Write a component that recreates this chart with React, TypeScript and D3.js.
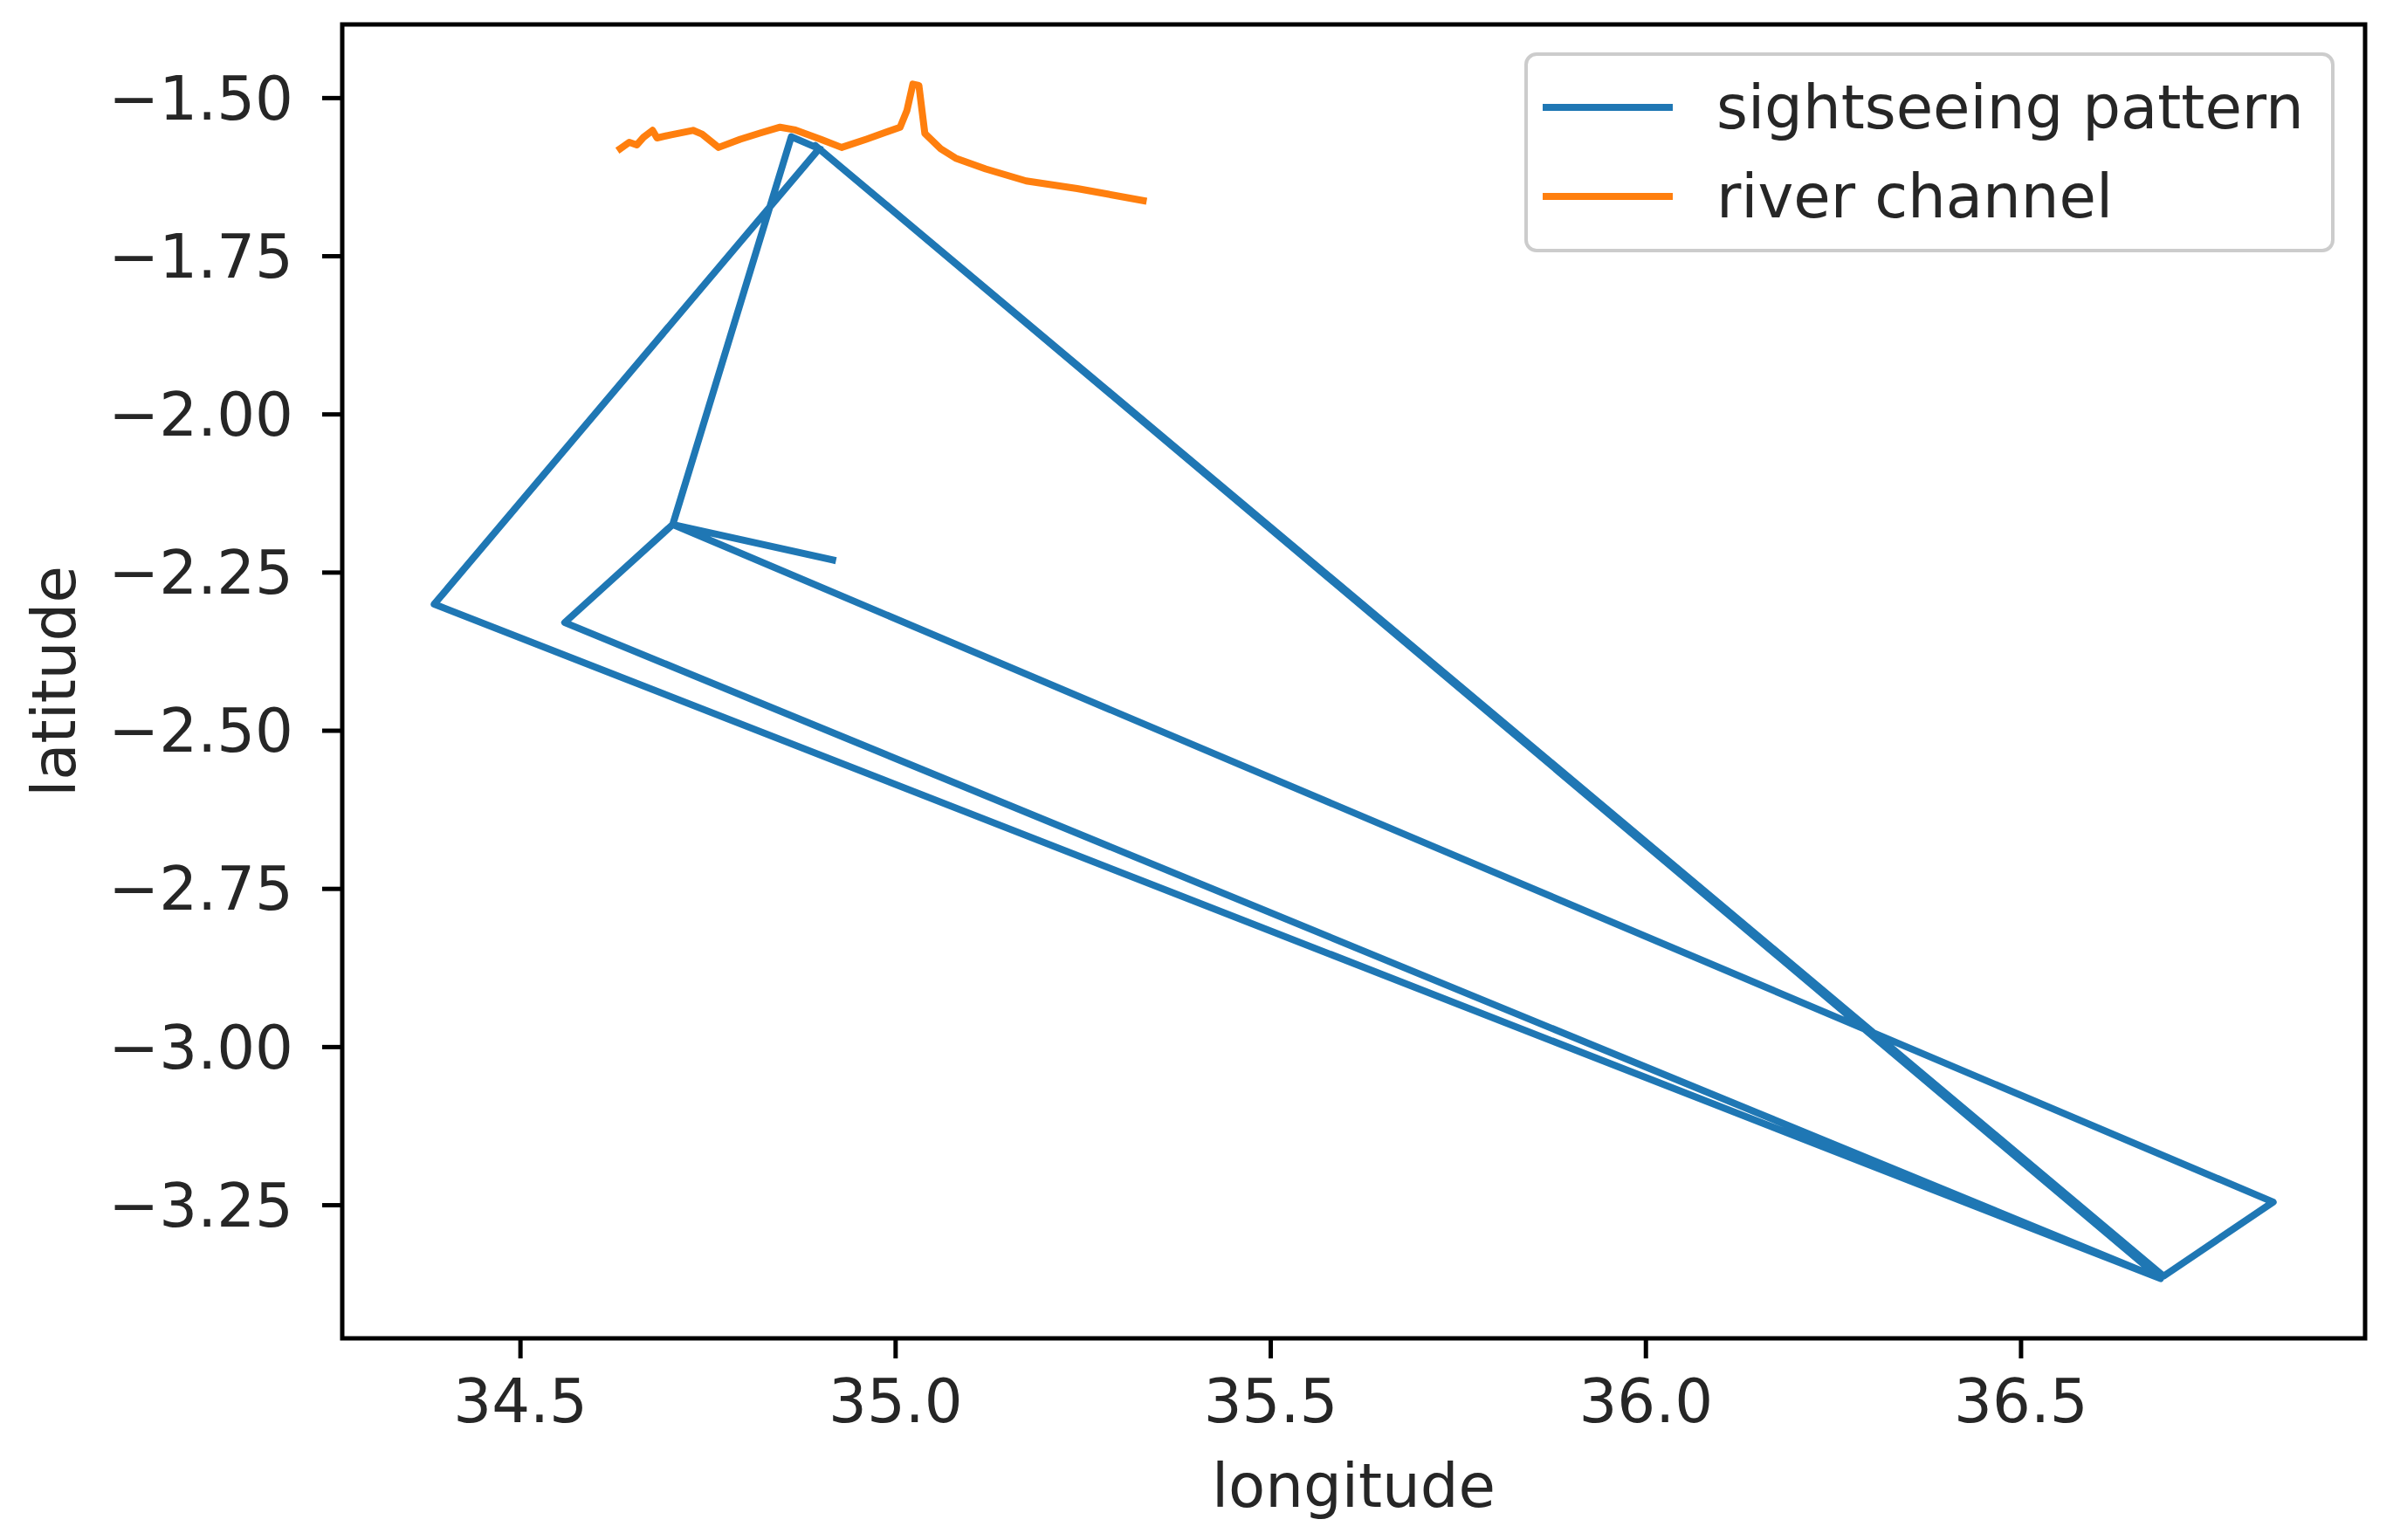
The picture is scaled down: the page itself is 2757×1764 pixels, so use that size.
import React from 'react';
import * as d3 from 'd3';

// sightseeing track (lon / lat)
const trackLon = [34.916, 34.703, 34.559, 36.686, 34.385, 34.898, 36.680, 34.893, 36.690, 36.836, 34.703, 34.861, 34.898];
const trackLat = [-2.230, -2.174, -2.329, -3.366, -2.300, -1.580, -3.360, -1.575, -3.362, -3.245, -2.174, -1.561, -1.580];

// river channel
const riverLon = [34.633, 34.645, 34.655, 34.664, 34.676, 34.682, 34.701, 34.730, 34.742, 34.764, 34.793, 34.820, 34.846, 34.865, 34.900, 34.928, 34.961, 35.006, 35.015, 35.023, 35.031, 35.039, 35.060, 35.080, 35.120, 35.174, 35.242, 35.330];
const riverLat = [-1.580, -1.570, -1.574, -1.562, -1.551, -1.563, -1.558, -1.551, -1.557, -1.578, -1.565, -1.555, -1.546, -1.550, -1.565, -1.578, -1.565, -1.546, -1.520, -1.478, -1.480, -1.556, -1.580, -1.595, -1.612, -1.631, -1.643, -1.662];

const xTicks = [34.5, 35.0, 35.5, 36.0, 36.5];
const yTicks = [-1.5, -1.75, -2.0, -2.25, -2.5, -2.75, -3.0, -3.25];

const seriesNames = ['sightseeing pattern', 'river channel'];
const seriesColors = ['#1f77b4', '#ff7f0e'];

export default function App() {
  const width = 2757;
  const height = 1764;
  const margin = { top: 28, right: 48, bottom: 231, left: 392 };
  const fs = 69;
  const tickLen = 23;
  const font = '"DejaVu Sans", sans-serif';

  const allLon = trackLon.concat(riverLon);
  const allLat = trackLat.concat(riverLat);
  const [x0, x1] = d3.extent(allLon) as [number, number];
  const [y0, y1] = d3.extent(allLat) as [number, number];
  const px = (x1 - x0) * 0.05;
  const py = (y1 - y0) * 0.05;

  const x = d3.scaleLinear()
    .domain([x0 - px, x1 + px])
    .range([margin.left, width - margin.right]);
  const y = d3.scaleLinear()
    .domain([y0 - py, y1 + py])
    .range([height - margin.bottom, margin.top]);

  const line = d3.line<[number, number]>()
    .x(d => x(d[0]))
    .y(d => y(d[1]));

  const track = trackLon.map((v, i) => [v, trackLat[i]] as [number, number]);
  const river = riverLon.map((v, i) => [v, riverLat[i]] as [number, number]);

  const fmtX = d3.format('.1f');
  const fmtY = (v: number) => d3.format('.2f')(v).replace('-', '\u2212');

  const plotL = margin.left;
  const plotR = width - margin.right;
  const plotT = margin.top;
  const plotB = height - margin.bottom;

  const legX = 1748;
  const legY = 62;
  const legW = 924;
  const legH = 225;

  return (
    <svg width={width} height={height} style={{ position: 'absolute', left: 0, top: 0, background: '#fff' }} fontFamily={font}>
      <rect x={0} y={0} width={width} height={height} fill="#fff" />
      <path d={line(track) || ''} fill="none" stroke={seriesColors[0]} strokeWidth={8} strokeLinejoin="round" strokeLinecap="square" />
      <path d={line(river) || ''} fill="none" stroke={seriesColors[1]} strokeWidth={8} strokeLinejoin="round" strokeLinecap="square" />

      {/* frame */}
      <rect x={plotL} y={plotT} width={plotR - plotL} height={plotB - plotT} fill="none" stroke="#000" strokeWidth={5} />

      {/* x axis */}
      {xTicks.map(t => (
        <g key={'x' + t}>
          <line x1={x(t)} x2={x(t)} y1={plotB} y2={plotB + tickLen} stroke="#000" strokeWidth={5} />
          <text x={x(t)} y={plotB + tickLen + 21} dy="0.76em" textAnchor="middle" fontSize={fs} fill="#262626">{fmtX(t)}</text>
        </g>
      ))}
      <text x={(plotL + plotR) / 2} y={1702} dy="0.35em" textAnchor="middle" fontSize={fs} fill="#262626">longitude</text>

      {/* y axis */}
      {yTicks.map(t => (
        <g key={'y' + t}>
          <line x1={plotL - tickLen} x2={plotL} y1={y(t)} y2={y(t)} stroke="#000" strokeWidth={5} />
          <text x={plotL - tickLen - 33} y={y(t)} dy="0.35em" textAnchor="end" fontSize={fs} fill="#262626">{fmtY(t)}</text>
        </g>
      ))}
      <text transform={`translate(62,${(plotT + plotB) / 2}) rotate(-90)`} dy="0.35em" textAnchor="middle" fontSize={fs} fill="#262626">latitude</text>

      {/* legend */}
      <rect x={legX} y={legY} width={legW} height={legH} rx={12} fill="#fff" fillOpacity={0.8} stroke="#cccccc" strokeWidth={4} />
      {seriesNames.map((name, i) => {
        const cy = 123 + i * 102;
        return (
          <g key={name}>
            <line x1={1767} x2={1916} y1={cy} y2={cy} stroke={seriesColors[i]} strokeWidth={8} />
            <text x={1966} y={cy} dy="0.35em" fontSize={fs} fill="#262626">{name}</text>
          </g>
        );
      })}
    </svg>
  );
}
